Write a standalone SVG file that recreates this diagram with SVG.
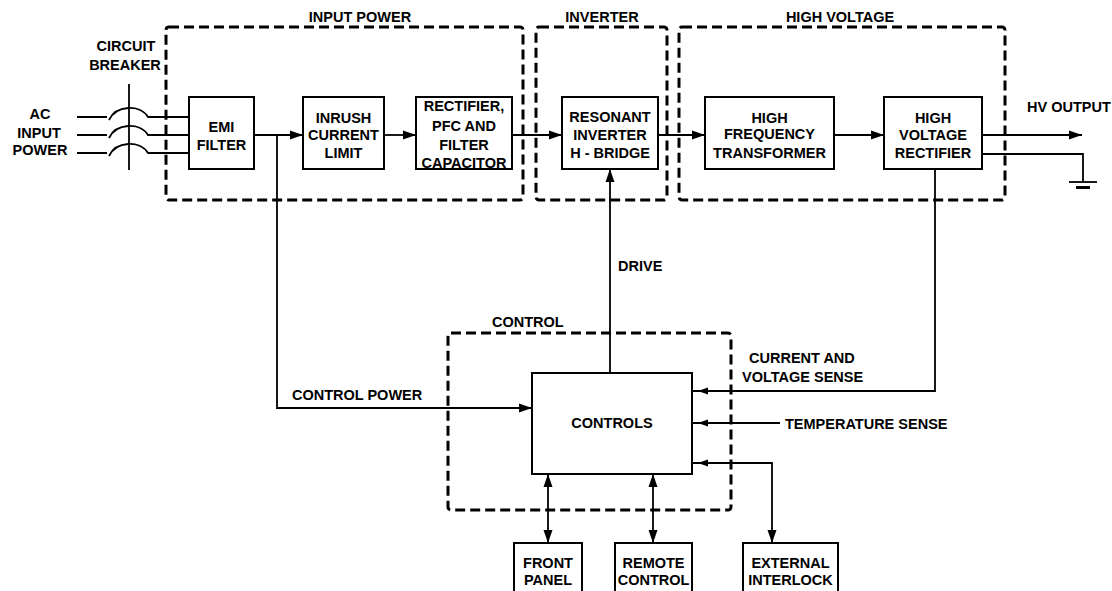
<svg xmlns="http://www.w3.org/2000/svg" width="1112" height="591" viewBox="0 0 1112 591">
<defs>
<style>
text{font-family:"Liberation Sans",Arial,sans-serif;font-weight:bold;font-size:14.5px;fill:#000}
.c{text-anchor:middle}
.box{fill:#fff;stroke:#000;stroke-width:2}
.grp{fill:none;stroke:#000;stroke-width:3;stroke-dasharray:10 5}
.ln{fill:none;stroke:#000;stroke-width:1.8}
.ah{fill:#000}
</style>
<marker id="arr" markerUnits="userSpaceOnUse" markerWidth="13" markerHeight="9" refX="13" refY="4.5" orient="auto-start-reverse" overflow="visible">
<path d="M0,0 L13,4.5 L0,9 z" fill="#000"/>
</marker>
</defs>
<rect width="1112" height="591" fill="#fff"/>

<g id="groups">
<rect class="grp" x="166" y="27" width="357" height="173" rx="3"/>
<rect class="grp" x="536" y="27" width="131" height="173" rx="3"/>
<rect class="grp" x="679" y="27" width="326" height="173" rx="3"/>
<rect class="grp" x="448" y="333" width="283" height="177" rx="3"/>
<text class="c" x="360" y="22">INPUT POWER</text>
<text class="c" x="602" y="22">INVERTER</text>
<text class="c" x="840" y="22">HIGH VOLTAGE</text>
<text x="492" y="327">CONTROL</text>
</g>

<g id="connectors">
<path class="ln" d="M77,117 H107 M77,135 H107 M77,153 H107"/>
<path class="ln" d="M109,120 C116,105 140,104 148,117 H189"/>
<path class="ln" d="M109,138 C116,123 140,122 148,135 H189"/>
<path class="ln" d="M109,156 C116,141 140,140 148,153 H189"/>
<path class="ln" d="M129,84 V170"/>
<path class="ln" d="M254,135 H303" marker-end="url(#arr)"/>
<path class="ln" d="M384,135 H416" marker-end="url(#arr)"/>
<path class="ln" d="M512,135 H562" marker-end="url(#arr)"/>
<path class="ln" d="M658,135 H705" marker-end="url(#arr)"/>
<path class="ln" d="M834,135 H884" marker-end="url(#arr)"/>
<path class="ln" d="M982,135 H1082" marker-end="url(#arr)"/>
<path class="ln" d="M982,154 H1083 V182"/>
<path class="ln" d="M1069,182 H1097"/>
<path d="M1076,187.5 H1090" stroke="#000" stroke-width="3"/>
<path class="ln" d="M277,135 V408 H532" marker-end="url(#arr)"/>
<path class="ln" d="M610,373 V169" marker-end="url(#arr)"/>
<path class="ln" d="M935,169 V391 H692"/>
<path class="ln" d="M780,423 H692"/>
<path class="ln" d="M692,463 H772 V543" marker-end="url(#arr)"/>
<polygon class="ah" points="698,391 708,387.5 708,394.5"/>
<polygon class="ah" points="698,423 708,419.5 708,426.5"/>
<polygon class="ah" points="698,463 708,459.5 708,466.5"/>
<path class="ln" d="M548,474 V543" marker-start="url(#arr)" marker-end="url(#arr)"/>
<path class="ln" d="M653,474 V543" marker-start="url(#arr)" marker-end="url(#arr)"/>
<text x="618" y="271">DRIVE</text>
<text x="292" y="400">CONTROL POWER</text>
<text x="749" y="363">CURRENT AND</text>
<text x="742" y="382">VOLTAGE SENSE</text>
<text x="785" y="429">TEMPERATURE SENSE</text>
<text x="1027" y="112">HV OUTPUT</text>
</g>

<g id="ac-input">
<text class="c" x="40" y="119">AC</text>
<text class="c" x="39" y="138">INPUT</text>
<text class="c" x="40" y="155">POWER</text>
</g>
<g id="circuit-breaker">
<text class="c" x="126" y="51">CIRCUIT</text>
<text class="c" x="125" y="70">BREAKER</text>
</g>

<g id="emi-filter">
<rect class="box" x="189" y="97" width="65" height="72"/>
<text class="c" x="221.5" y="132">EMI</text>
<text class="c" x="221.5" y="150">FILTER</text>
</g>
<g id="inrush">
<rect class="box" x="303" y="97" width="81" height="72"/>
<text class="c" x="343.5" y="123">INRUSH</text>
<text class="c" x="343.5" y="140">CURRENT</text>
<text class="c" x="343.5" y="158">LIMIT</text>
</g>
<g id="rectifier">
<rect class="box" x="416" y="97" width="96" height="72"/>
<text class="c" x="464" y="111">RECTIFIER,</text>
<text class="c" x="464" y="131">PFC AND</text>
<text class="c" x="464" y="150">FILTER</text>
<text class="c" x="464" y="168">CAPACITOR</text>
</g>
<g id="resonant-inverter">
<rect class="box" x="562" y="97" width="96" height="72"/>
<text class="c" x="610" y="122">RESONANT</text>
<text class="c" x="610" y="140">INVERTER</text>
<text class="c" x="610" y="158">H - BRIDGE</text>
</g>
<g id="hf-transformer">
<rect class="box" x="705" y="97" width="129" height="72"/>
<text class="c" x="769.5" y="123">HIGH</text>
<text class="c" x="769.5" y="139">FREQUENCY</text>
<text class="c" x="769.5" y="158">TRANSFORMER</text>
</g>
<g id="hv-rectifier">
<rect class="box" x="884" y="97" width="98" height="72"/>
<text class="c" x="933" y="123">HIGH</text>
<text class="c" x="933" y="140">VOLTAGE</text>
<text class="c" x="933" y="158">RECTIFIER</text>
</g>
<g id="controls">
<rect class="box" x="532" y="373" width="160" height="101"/>
<text class="c" x="612" y="428">CONTROLS</text>
</g>
<g id="front-panel">
<rect class="box" x="514" y="543" width="68" height="60"/>
<text class="c" x="548" y="568">FRONT</text>
<text class="c" x="548" y="585">PANEL</text>
</g>
<g id="remote-control">
<rect class="box" x="615" y="543" width="77" height="60"/>
<text class="c" x="653.5" y="568">REMOTE</text>
<text class="c" x="653.5" y="585">CONTROL</text>
</g>
<g id="external-interlock">
<rect class="box" x="743" y="543" width="95" height="60"/>
<text class="c" x="790.5" y="568">EXTERNAL</text>
<text class="c" x="790.5" y="585">INTERLOCK</text>
</g>
</svg>
